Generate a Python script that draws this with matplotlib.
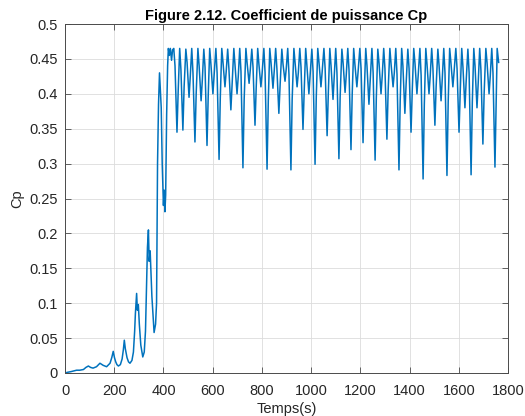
import matplotlib
matplotlib.use("Agg")
import matplotlib.pyplot as plt
import numpy as np
from matplotlib.ticker import FuncFormatter

plt.rcParams['font.family'] = ['Liberation Sans', 'DejaVu Sans']

# start-up part (slow build up of Cp)
ramp_t = [0, 10, 25, 47, 60, 75, 85, 95, 104, 114, 128, 142, 155, 169, 183, 190, 196,
          201, 206, 211, 217, 225, 232, 237, 241, 245, 252, 258, 264, 272, 278, 283, 286,
          291, 294, 298, 302, 308, 316, 322, 327, 331, 335, 339, 342, 346, 353, 362, 368,
          372, 376, 380, 384, 388, 391, 395, 400, 403, 406, 409, 413, 417, 420, 424, 428,
          433, 437]
ramp_v = [0, 0.001, 0.002, 0.004, 0.004, 0.005, 0.008, 0.010, 0.008, 0.007, 0.009, 0.014,
          0.011, 0.009, 0.014, 0.022, 0.031, 0.022, 0.016, 0.012, 0.010, 0.012, 0.020,
          0.033, 0.047, 0.035, 0.022, 0.016, 0.014, 0.018, 0.030, 0.060, 0.085, 0.114,
          0.090, 0.098, 0.070, 0.040, 0.023, 0.030, 0.060, 0.120, 0.180, 0.205, 0.160,
          0.175, 0.110, 0.058, 0.070, 0.100, 0.300, 0.385, 0.430, 0.400, 0.380, 0.300,
          0.240, 0.262, 0.231, 0.255, 0.370, 0.440, 0.465, 0.455, 0.465, 0.448, 0.463]

# oscillating part: peak, notch, trough, kink on the way up, for each cycle
peak_t = [442, 466, 491, 515, 540, 564, 588, 613, 637, 661, 686, 710, 735, 759, 783, 808,
          832, 856, 881, 905, 930, 954, 978, 1003, 1027, 1052, 1076, 1100, 1125, 1149, 1173,
          1198, 1222, 1247, 1271, 1295, 1320, 1344, 1368, 1393, 1417, 1442, 1466, 1490, 1515,
          1539, 1563, 1588, 1612, 1637, 1661, 1685, 1710, 1734]
peak_v = [0.465, 0.465, 0.464, 0.465, 0.465, 0.464, 0.465, 0.465, 0.465, 0.464, 0.465,
          0.465, 0.465, 0.464, 0.465, 0.465, 0.465, 0.465, 0.464, 0.465, 0.465, 0.465,
          0.465, 0.464, 0.465, 0.465, 0.465, 0.465, 0.464, 0.465, 0.465, 0.465, 0.465,
          0.465, 0.464, 0.465, 0.465, 0.465, 0.465, 0.464, 0.465, 0.465, 0.465, 0.465,
          0.464, 0.465, 0.465, 0.465, 0.465, 0.464, 0.465, 0.465, 0.465, 0.465]
notch_t = [447, 471, 496, 520, 545, 569, 593, 618, 642, 666, 691, 715, 740, 764, 788, 813,
           837, 861, 886, 910, 935, 959, 983, 1008, 1032, 1057, 1081, 1105, 1130, 1154, 1178,
           1203, 1227, 1252, 1276, 1300, 1325, 1349, 1373, 1398, 1422, 1447, 1471, 1495, 1520,
           1544, 1568, 1593, 1617, 1642, 1666, 1690, 1715, 1739]
notch_v = [0.440, 0.435, 0.445, 0.430, 0.440, 0.438, 0.442, 0.430, 0.445, 0.436, 0.440,
           0.432, 0.444, 0.438, 0.442, 0.430, 0.445, 0.436, 0.442, 0.428, 0.444, 0.438,
           0.440, 0.432, 0.445, 0.436, 0.440, 0.430, 0.444, 0.434, 0.442, 0.436, 0.440,
           0.430, 0.444, 0.436, 0.442, 0.428, 0.440, 0.436, 0.444, 0.426, 0.442, 0.436,
           0.440, 0.430, 0.445, 0.436, 0.438, 0.430, 0.440, 0.434, 0.444, 0.430]
trough_t = [455, 479, 504, 528, 553, 577, 601, 626, 650, 674, 699, 723, 748, 772, 796, 821,
            845, 869, 894, 918, 943, 967, 991, 1016, 1040, 1065, 1089, 1113, 1138, 1162, 1186,
            1211, 1235, 1260, 1284, 1308, 1333, 1357, 1381, 1406, 1430, 1455, 1479, 1503, 1528,
            1552, 1576, 1601, 1625, 1650, 1674, 1698, 1723, 1747]
trough_v = [0.345, 0.348, 0.395, 0.331, 0.390, 0.326, 0.400, 0.306, 0.410, 0.377, 0.400,
            0.294, 0.415, 0.355, 0.410, 0.292, 0.408, 0.372, 0.418, 0.291, 0.410, 0.349,
            0.400, 0.299, 0.410, 0.340, 0.392, 0.307, 0.402, 0.320, 0.410, 0.330, 0.385,
            0.305, 0.400, 0.335, 0.410, 0.291, 0.372, 0.345, 0.400, 0.278, 0.400, 0.355,
            0.390, 0.283, 0.410, 0.345, 0.380, 0.284, 0.380, 0.328, 0.400, 0.295]
rise_t = [460, 484, 509, 533, 558, 582, 606, 631, 655, 679, 704, 728, 753, 777, 801, 826,
          850, 874, 899, 923, 948, 972, 996, 1021, 1045, 1070, 1094, 1118, 1143, 1167, 1191,
          1216, 1240, 1265, 1289, 1313, 1338, 1362, 1386, 1411, 1435, 1460, 1484, 1508, 1533,
          1557, 1581, 1606, 1630, 1655, 1679, 1703, 1728, 1752]
rise_v = [0.405, 0.410, 0.425, 0.400, 0.420, 0.398, 0.428, 0.395, 0.432, 0.415, 0.425,
          0.392, 0.435, 0.410, 0.430, 0.390, 0.432, 0.412, 0.436, 0.392, 0.430, 0.405,
          0.426, 0.396, 0.432, 0.402, 0.424, 0.396, 0.428, 0.400, 0.432, 0.402, 0.418,
          0.395, 0.426, 0.404, 0.430, 0.390, 0.414, 0.405, 0.426, 0.385, 0.426, 0.410,
          0.422, 0.388, 0.432, 0.404, 0.418, 0.388, 0.416, 0.400, 0.426, 0.392]

end_t = [1756, 1762]
end_v = [0.465, 0.445]

t = list(ramp_t)
cp = list(ramp_v)
for i in range(len(trough_t)):
    t += [peak_t[i], notch_t[i], trough_t[i], rise_t[i]]
    cp += [peak_v[i], notch_v[i], trough_v[i], rise_v[i]]
t += end_t
cp += end_v

fig = plt.figure(figsize=(5.25, 4.16), dpi=100)
ax = fig.add_axes([65/525, 1 - 373/416, 443/525, 349/416])

ax.plot(t, cp, color='#0072BD', lw=1.1)

ax.set_xlim(0, 1800)
ax.set_ylim(0, 0.5)
ax.set_xticks(np.arange(0, 1801, 200))
ax.set_yticks(np.arange(0, 0.501, 0.05))
ax.yaxis.set_major_formatter(FuncFormatter(lambda v, p: '%g' % round(v, 2)))

ax.grid(True, color='#dcdcdc', lw=0.6)
ax.set_axisbelow(True)
for s in ax.spines.values():
    s.set_color('#4a4a4a')
    s.set_linewidth(0.7)
ax.tick_params(direction='in', length=4, width=0.6, color='#4a4a4a',
               top=True, right=True, labelsize=10.5, labelcolor='#262626')
ax.tick_params(axis='x', pad=8)
ax.tick_params(axis='y', pad=5)

ax.set_xlabel('Temps(s)', fontsize=10.5, color='#262626', labelpad=3)
ax.set_ylabel('Cp', fontsize=10.5, color='#262626', labelpad=4)
ax.set_title('Figure 2.12. Coefficient de puissance Cp', fontsize=10.5,
             fontweight='bold', color='black', pad=3)

fig.savefig('out.png', dpi=100)
